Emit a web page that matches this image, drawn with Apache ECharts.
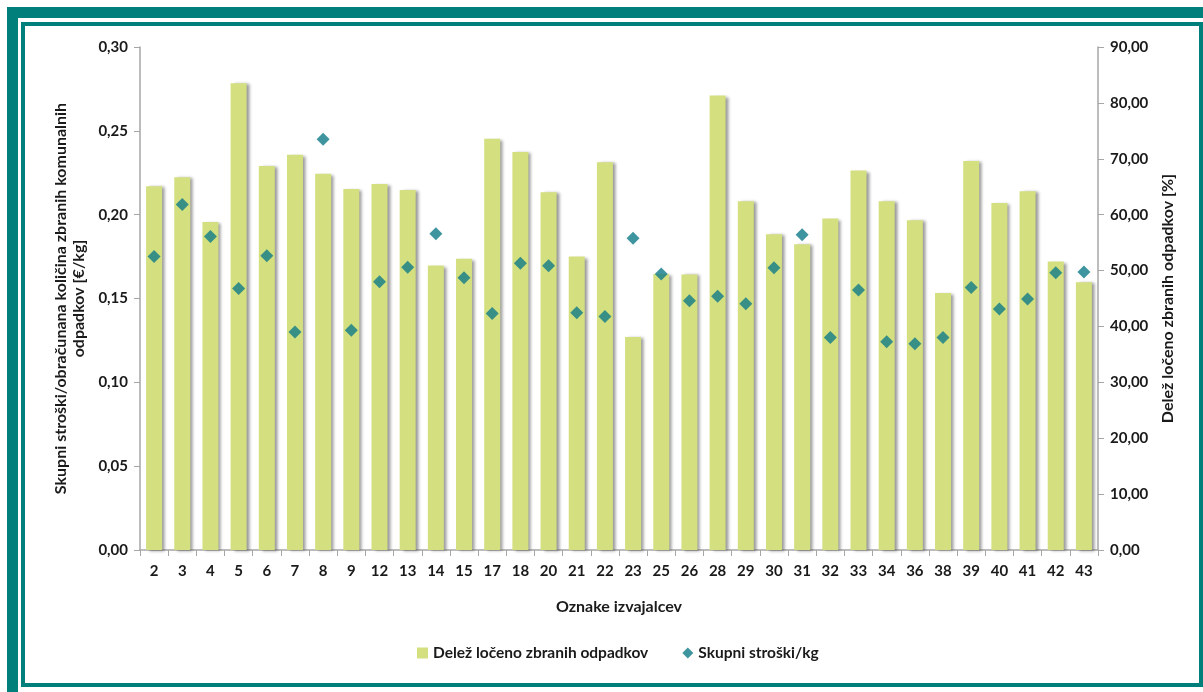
<!DOCTYPE html>
<html>
<head>
<meta charset="utf-8">
<script src="https://cdn.jsdelivr.net/npm/echarts@6/dist/echarts.min.js"></script>
<style>
  html, body { margin:0; padding:0; background:#ffffff; }
  #frameOuter { position:absolute; left:7px; top:7px; width:1220px; height:696px; box-sizing:border-box; border:11px solid #007f7b; }
  #frameInner { position:absolute; left:21px; top:22px; width:1182px; height:665px; box-sizing:border-box; border:4px solid #007f7b; }
  #chart { position:absolute; left:0; top:0; width:1203px; height:692px; }
</style>
</head>
<body>
<div id="frameOuter"></div>
<div id="frameInner"></div>
<div id="chart"></div>
<script>
// Categories (provider codes)
var categories = ['2','3','4','5','6','7','8','9','12','13','14','15','17','18','20','21','22','23','25','26','28','29','30','31','32','33','34','36','38','39','40','41','42','43'];
// Share of separately collected waste [%] (bars, right axis)
var shareSeparate = [65.1,66.7,58.7,83.5,68.7,70.7,67.3,64.6,65.5,64.4,50.9,52.1,73.6,71.2,64.0,52.5,69.4,38.1,49.4,49.3,81.3,62.4,56.5,54.7,59.3,67.9,62.4,59.0,46.0,69.6,62.1,64.2,51.6,47.9];
// Total costs per kg [€/kg] (diamonds, left axis)
var costPerKg = [0.175,0.206,0.187,0.156,0.1755,0.130,0.245,0.131,0.160,0.1686,0.1886,0.1624,0.141,0.171,0.1695,0.1415,0.1393,0.1859,0.1646,0.1487,0.1513,0.1469,0.1683,0.188,0.1268,0.155,0.1242,0.123,0.1268,0.1566,0.1437,0.1497,0.1654,0.1658];

var seriesNames = ['Delež ločeno zbranih odpadkov', 'Skupni stroški/kg'];
var leftAxisName = 'Skupni stroški/obračunana količina zbranih komunalnih\nodpadkov [€/kg]';
var rightAxisName = 'Delež ločeno zbranih odpadkov [%]';
var xAxisName = 'Oznake izvajalcev';

var FONT = 'Lato';
var TXT = '#1a1a1a';
var AX = '#a6a6a6';
function comma(v){ return v.toFixed(2).replace('.', ','); }

var chart = echarts.init(document.getElementById('chart'), null, {renderer:'canvas'});
chart.setOption({
  backgroundColor: 'transparent',
  animation: false,
  textStyle: { fontFamily: FONT },
  grid: { left: 140, right: 105, top: 47, bottom: 142 },
  legend: {
    bottom: 26, left: 412, itemGap: 34, itemWidth: 11, itemHeight: 11,
    textStyle: { fontFamily: FONT, fontWeight: 'bold', fontSize: 15.5, color: TXT },
    data: [
      { name: seriesNames[0], icon: 'rect' },
      { name: seriesNames[1], icon: 'diamond' }
    ]
  },
  xAxis: {
    type: 'category', data: categories,
    name: xAxisName, nameLocation: 'middle', nameGap: 49,
    nameTextStyle: { fontFamily: FONT, fontWeight: 'bold', fontSize: 16, color: TXT },
    axisLine: { lineStyle: { color: AX, width: 1.5 } },
    axisTick: { show: true, alignWithLabel: false, length: 6, lineStyle: { color: AX } },
    axisLabel: { fontFamily: FONT, fontWeight: 'bold', fontSize: 15, color: TXT, margin: 14, interval: 0 }
  },
  yAxis: [
    {
      type: 'value', min: 0, max: 0.3, interval: 0.05, position: 'left',
      name: leftAxisName, nameLocation: 'middle', nameGap: 51, nameRotate: 90,
      nameTextStyle: { fontFamily: FONT, fontWeight: 'bold', fontSize: 16, color: TXT, lineHeight: 18 },
      axisLine: { show: true, lineStyle: { color: AX, width: 1.5 } },
      axisTick: { show: true, length: 6, lineStyle: { color: AX } },
      splitLine: { show: false },
      axisLabel: { fontFamily: FONT, fontWeight: 'bold', fontSize: 15, color: TXT, margin: 12, formatter: comma }
    },
    {
      type: 'value', min: 0, max: 90, interval: 10, position: 'right',
      name: rightAxisName, nameLocation: 'middle', nameGap: 62, nameRotate: 90,
      nameTextStyle: { fontFamily: FONT, fontWeight: 'bold', fontSize: 16, color: TXT },
      axisLine: { show: true, lineStyle: { color: AX, width: 1.5 } },
      axisTick: { show: true, length: 6, lineStyle: { color: AX } },
      splitLine: { show: false },
      axisLabel: { fontFamily: FONT, fontWeight: 'bold', fontSize: 15, color: TXT, margin: 12, formatter: comma }
    }
  ],
  series: [
    {
      name: seriesNames[0], type: 'bar', yAxisIndex: 1, data: shareSeparate,
      barWidth: 16,
      itemStyle: { color: '#d4df7f', shadowColor: 'rgba(0,0,0,0.4)', shadowBlur: 3, shadowOffsetX: 3, shadowOffsetY: 1 },
      z: 2
    },
    {
      name: seriesNames[1], type: 'scatter', yAxisIndex: 0, data: costPerKg,
      symbol: 'diamond', symbolSize: 13,
      itemStyle: { color: '#0f7b87' },
      z: 5
    }
  ]
});
</script>
</body>
</html>
